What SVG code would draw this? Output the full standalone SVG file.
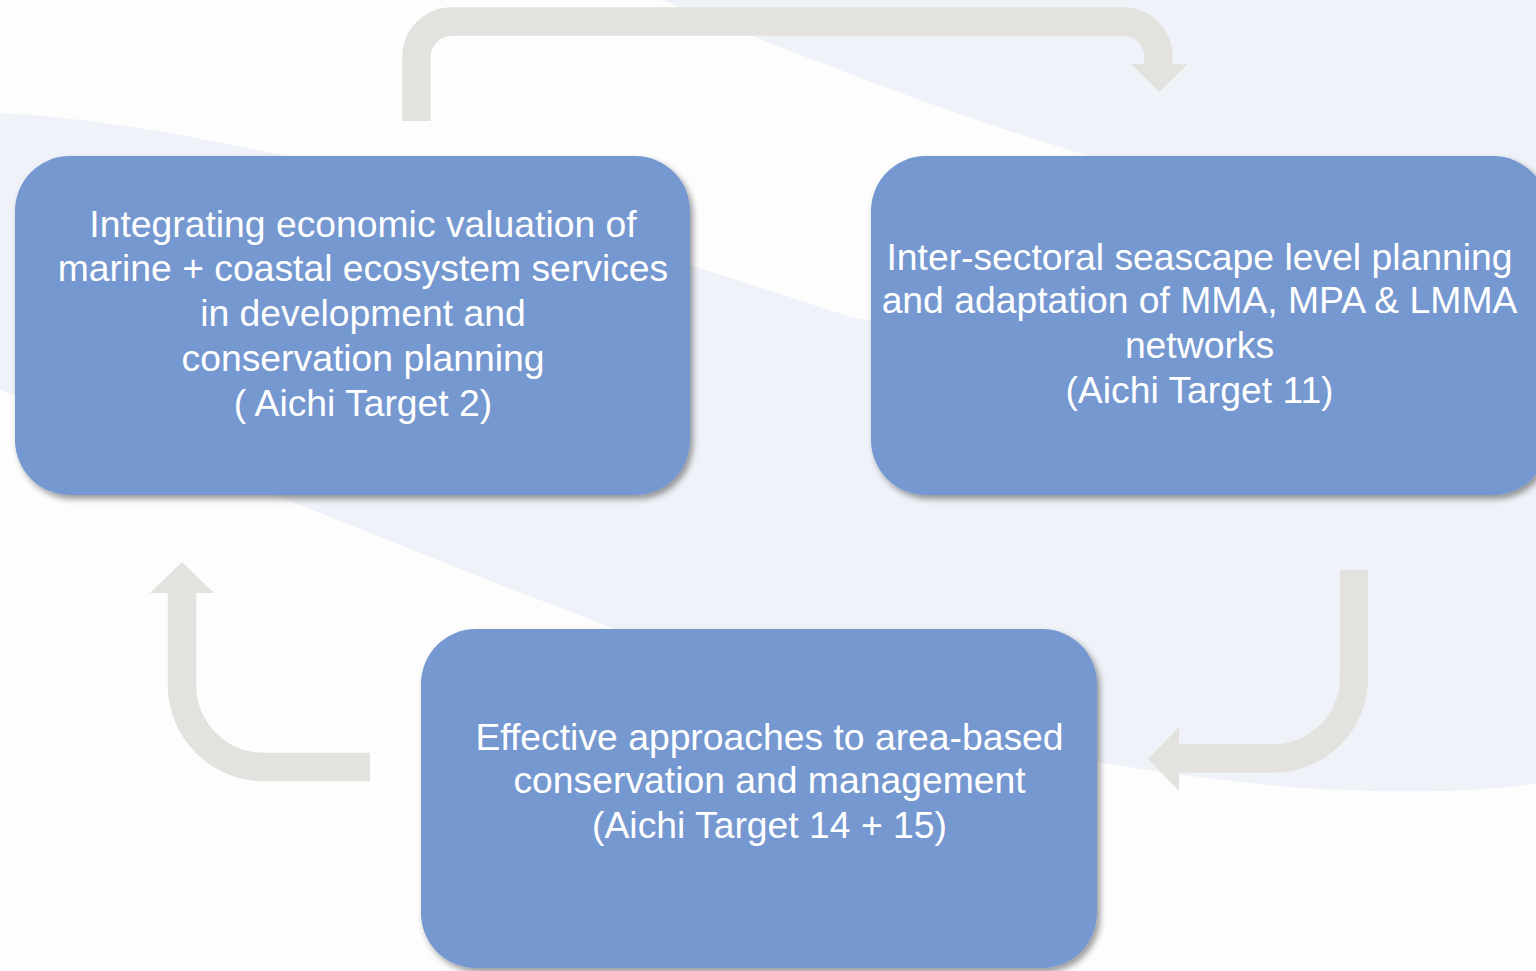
<svg xmlns="http://www.w3.org/2000/svg" width="1536" height="971" viewBox="0 0 1536 971">
  <defs>
    <filter id="shadow" x="-5%" y="-5%" width="112%" height="115%">
      <feDropShadow dx="3" dy="4" stdDeviation="3" flood-color="#000000" flood-opacity="0.4"/>
    </filter>
    <style>
      .node { fill: #7598D0; filter: url(#shadow); }
      .label { font-family: "Liberation Sans", Arial, sans-serif; font-size: 37.3px; fill: #FFFFFF; text-anchor: middle; }
      .conn { fill: none; stroke: #E3E2DE; stroke-width: 28.5; stroke-linecap: butt; }
      .head { fill: #E3E2DE; }
    </style>
  </defs>

  <g id="background">
    <rect x="0" y="0" width="1536" height="971" fill="#EFF2F8"/>
    <path d="M0,0 H662 C800,55 950,115 1080,153 C1250,205 1400,260 1460,300 C1300,400 1100,360 850,317 C650,250 250,125 0,113 Z" fill="#FDFDFD"/>
    <path d="M0,390 C250,480 450,570 700,660 C900,730 1100,770 1300,788 C1420,795 1500,790 1536,783 L1536,971 L0,971 Z" fill="#FDFDFD"/>
  </g>

  <g id="connectors">
    <path class="conn" d="M416.5,121 V57 A35.5,35.5 0 0 1 452,21.5 H1123 A35.5,35.5 0 0 1 1158.5,57 V65"/>
    <polygon class="head" points="1131,64 1188,64 1159.5,92"/>
    <path class="conn" d="M1354,570 V677 A81,81 0 0 1 1273,758.5 H1178"/>
    <polygon class="head" points="1179,727 1179,791 1148,759"/>
    <path class="conn" d="M370,767 H264 A82,82 0 0 1 182,685 V592"/>
    <polygon class="head" points="150,593 214,593 182,562"/>
  </g>

  <g id="node-economic-valuation">
    <rect class="node" x="15" y="156" width="675" height="339" rx="55" ry="55"/>
    <text class="label" x="363" y="237">Integrating economic valuation of</text>
    <text class="label" x="363" y="281">marine + coastal ecosystem services</text>
    <text class="label" x="363" y="326">in development and</text>
    <text class="label" x="363" y="371">conservation planning</text>
    <text class="label" x="363" y="416">( Aichi Target 2)</text>
  </g>

  <g id="node-seascape-planning">
    <rect class="node" x="871" y="156" width="677" height="339" rx="55" ry="55"/>
    <text class="label" x="1199.5" y="270">Inter-sectoral seascape level planning</text>
    <text class="label" x="1199.5" y="313">and adaptation of MMA, MPA &amp; LMMA</text>
    <text class="label" x="1199.5" y="358">networks</text>
    <text class="label" x="1199.5" y="403">(Aichi Target 11)</text>
  </g>

  <g id="node-area-based">
    <rect class="node" x="421" y="629" width="676" height="339" rx="55" ry="55"/>
    <text class="label" x="769.5" y="750">Effective approaches to area-based</text>
    <text class="label" x="769.5" y="793">conservation and management</text>
    <text class="label" x="769.5" y="838">(Aichi Target 14 + 15)</text>
  </g>
</svg>
